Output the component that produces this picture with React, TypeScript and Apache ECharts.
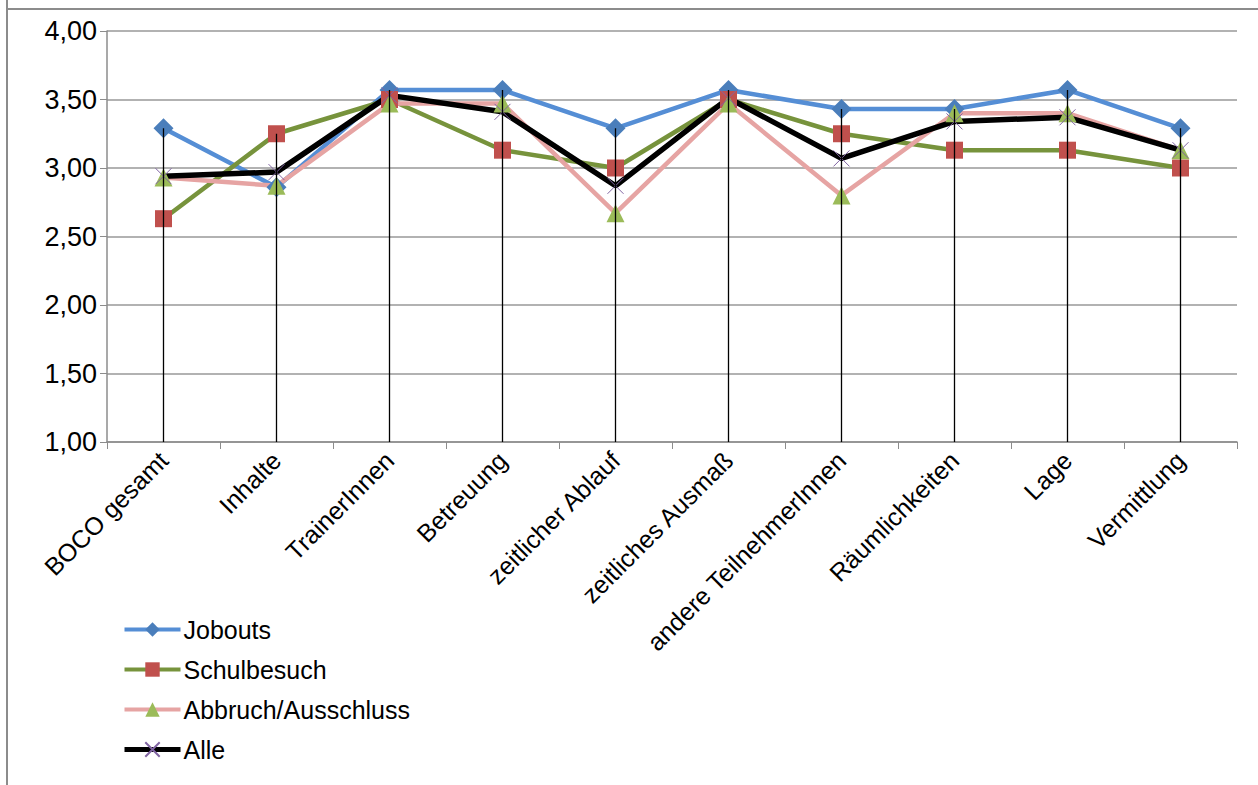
import React, { useEffect, useRef } from "react";
import * as echarts from "echarts";

const categories = [
  "BOCO gesamt",
  "Inhalte",
  "TrainerInnen",
  "Betreuung",
  "zeitlicher Ablauf",
  "zeitliches Ausmaß",
  "andere TeilnehmerInnen",
  "Räumlichkeiten",
  "Lage",
  "Vermittlung",
];

const jobouts = [3.29, 2.86, 3.57, 3.57, 3.29, 3.57, 3.43, 3.43, 3.57, 3.29];
const schulbesuch = [2.63, 3.25, 3.5, 3.13, 3.0, 3.5, 3.25, 3.13, 3.13, 3.0];
const abbruch = [2.93, 2.87, 3.47, 3.47, 2.67, 3.47, 2.8, 3.4, 3.4, 3.13];
const alle = [2.94, 2.97, 3.53, 3.41, 2.87, 3.51, 3.07, 3.34, 3.37, 3.13];

const yTicks = { min: 1, max: 4, interval: 0.5 };

const FONT = "'Liberation Sans', Arial, sans-serif";

export default function App() {
  const ref = useRef<HTMLDivElement>(null);

  useEffect(() => {
    if (!ref.current) return;
    const chart = echarts.init(ref.current, null, { renderer: "svg" });

    const highs = categories.map((_, i) =>
      Math.max(jobouts[i], schulbesuch[i], abbruch[i], alle[i])
    );

    const lineSeries = (
      name: string,
      data: number[],
      lineColor: string,
      symbol: string,
      symbolColor: string,
      symbolSize: number,
      width: number,
      extraItem: any = {}
    ) => ({
      name,
      type: "line",
      data,
      symbol,
      symbolSize,
      showAllSymbol: true,
      lineStyle: { color: lineColor, width },
      itemStyle: { color: symbolColor, ...extraItem },
      emphasis: { disabled: true },
      z: 3,
    });

    chart.setOption({
      animation: false,
      textStyle: { fontFamily: FONT },
      graphic: [
        {
          type: "line",
          shape: { x1: 7, y1: 0, x2: 7, y2: 785 },
          style: { stroke: "#8c8c8c", lineWidth: 2 },
        },
        {
          type: "line",
          shape: { x1: 7, y1: 9, x2: 1258, y2: 9 },
          style: { stroke: "#8c8c8c", lineWidth: 2 },
        },
      ],
      grid: { left: 107, top: 31, right: 21, bottom: 343, containLabel: false },
      legend: {
        orient: "vertical",
        left: 117,
        top: 612,
        itemWidth: 56,
        itemHeight: 18,
        itemGap: 15,
        data: [
          { name: "Jobouts", lineStyle: { width: 4 } },
          { name: "Schulbesuch", lineStyle: { width: 4 } },
          { name: "Abbruch/Ausschluss", lineStyle: { width: 4 } },
          { name: "Alle", lineStyle: { width: 5 } },
        ],
        textStyle: { fontSize: 25, color: "#000", fontFamily: FONT, padding: [0, 0, 0, -2] },
      },
      xAxis: {
        type: "category",
        data: categories,
        boundaryGap: true,
        axisLine: { lineStyle: { color: "#8c8c8c", width: 1.5 } },
        axisTick: { show: true, length: 7, lineStyle: { color: "#8c8c8c" } },
        axisLabel: {
          rotate: 45,
          interval: 0,
          fontSize: 25,
          color: "#000",
          margin: 14,
          fontFamily: FONT,
        },
        splitLine: { show: false },
      },
      yAxis: {
        type: "value",
        min: yTicks.min,
        max: yTicks.max,
        interval: yTicks.interval,
        axisLine: { show: true, lineStyle: { color: "#8c8c8c", width: 1.5 } },
        axisTick: { show: true, length: 7, lineStyle: { color: "#8c8c8c" } },
        axisLabel: {
          fontSize: 27,
          color: "#000",
          margin: 10,
          fontFamily: FONT,
          formatter: (v: number) => v.toFixed(2).replace(".", ","),
        },
        splitLine: { show: true, lineStyle: { color: "#999", width: 1.5 } },
      },
      series: [
        lineSeries("Jobouts", jobouts, "#558ed5", "diamond", "#4a7ebb", 20, 4.5),
        lineSeries("Schulbesuch", schulbesuch, "#77933c", "rect", "#c0504d", 17, 4.5),
        lineSeries("Abbruch/Ausschluss", abbruch, "#e6a4a3", "triangle", "#9bbb59", 18, 4.5),
        lineSeries(
          "Alle",
          alle,
          "#000000",
          "path://M0,0L10,10M10,0L0,10",
          "rgba(0,0,0,0)",
          16,
          5.5,
          { borderColor: "#8064a2", borderWidth: 1 }
        ),
        {
          name: "drop",
          type: "custom",
          data: highs.map((h, i) => [i, h]),
          z: 5,
          silent: true,
          renderItem: (params: any, api: any) => {
            const top = api.coord([api.value(0), api.value(1)]);
            const bottom = api.coord([api.value(0), yTicks.min]);
            return {
              type: "line",
              shape: { x1: top[0], y1: top[1], x2: bottom[0], y2: bottom[1] },
              style: { stroke: "#000", lineWidth: 1.3 },
            };
          },
        },
      ],
    });

    return () => chart.dispose();
  }, []);

  return <div ref={ref} style={{ width: 1258, height: 785, position: "absolute", left: 0, top: 0 }} />;
}
